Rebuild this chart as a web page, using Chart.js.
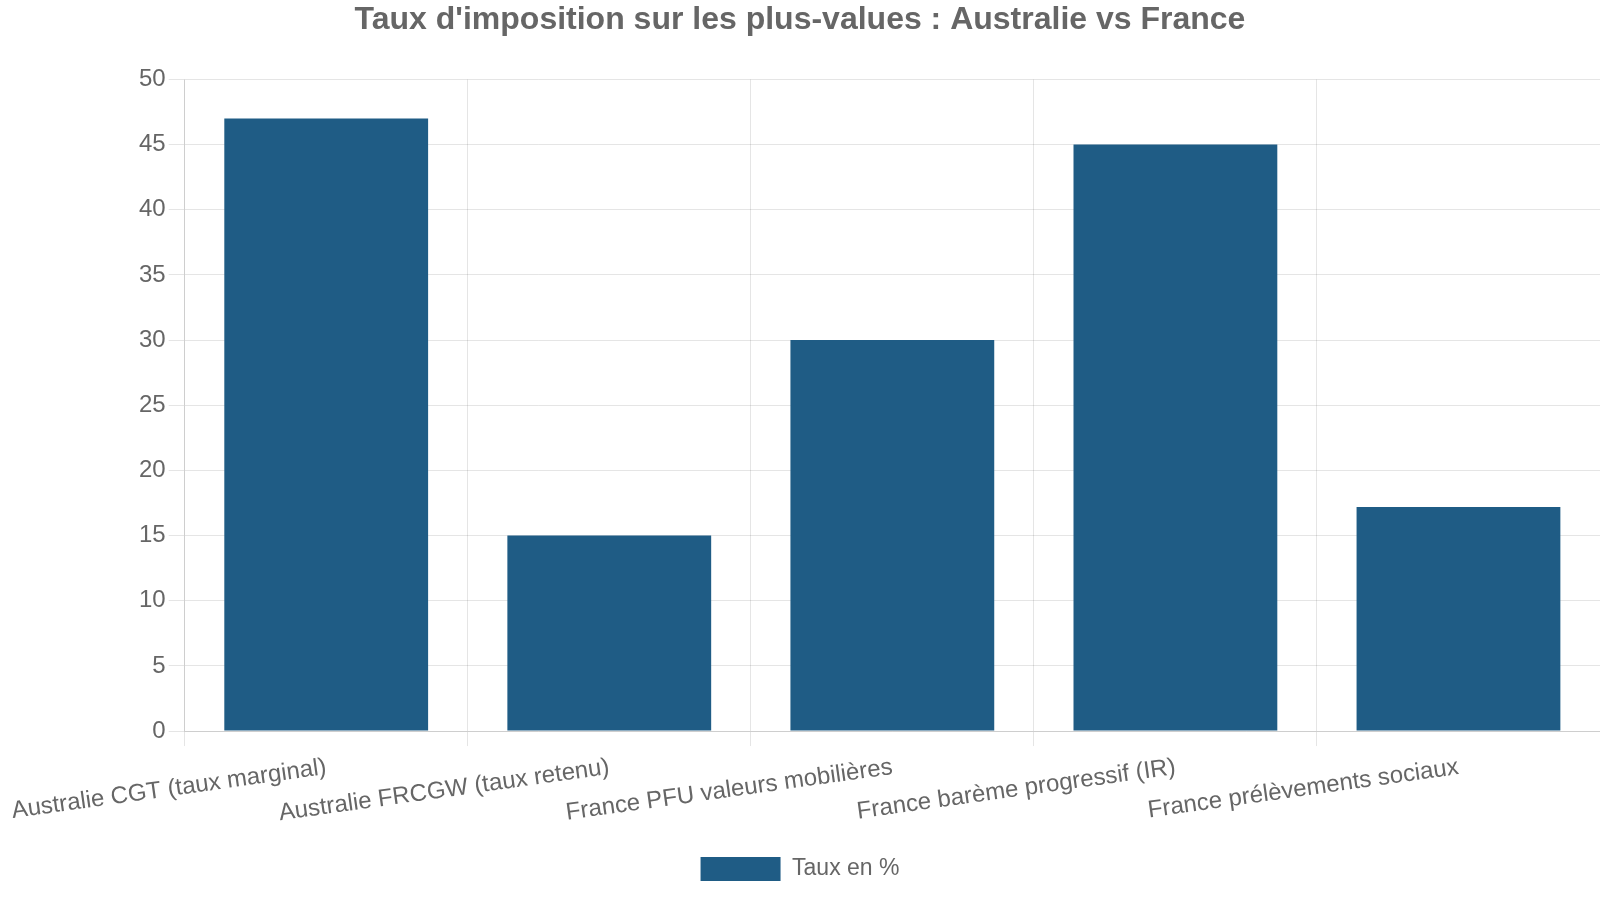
<!DOCTYPE html>
<html>
<head>
<meta charset="utf-8">
<script src="https://cdn.jsdelivr.net/npm/chart.js@4/dist/chart.umd.min.js"></script>
<style>
html,body{margin:0;padding:0;background:#fff;}
#wrap{width:1600px;height:900px;position:relative;}
</style>
</head>
<body>
<div id="wrap"><canvas id="c"></canvas></div>
<script>
const categories = [
  "Australie CGT (taux marginal)",
  "Australie FRCGW (taux retenu)",
  "France PFU valeurs mobilières",
  "France barème progressif (IR)",
  "France prélèvements sociaux"
];
const rates = [47, 15, 30, 45, 17.2];
const seriesLabel = "Taux en %";
const chartTitle = "Taux d'imposition sur les plus-values : Australie vs France";

Chart.defaults.font.family = "'Liberation Sans', Arial, sans-serif";
Chart.defaults.color = "#666";

new Chart(document.getElementById('c'), {
  type: 'bar',
  data: {
    labels: categories,
    datasets: [{
      label: seriesLabel,
      data: rates,
      backgroundColor: 'rgb(31, 92, 133)',
      borderColor: 'rgb(31, 92, 133)',
      borderWidth: 0
    }]
  },
  options: {
    responsive: true,
    maintainAspectRatio: false,
    animation: false,
    layout: { padding: { top: 1, right: 0, bottom: 9, left: 0 } },
    plugins: {
      title: {
        display: true,
        text: chartTitle,
        font: { size: 32, weight: 'bold' },
        color: '#666',
        padding: { top: 0, bottom: 40 }
      },
      legend: {
        position: 'bottom',
        labels: {
          boxWidth: 80,
          boxHeight: 24,
          font: { size: 23 },
          color: '#666',
          padding: 22
        }
      },
      tooltip: { enabled: false }
    },
    scales: {
      x: {
        ticks: { font: { size: 24 }, color: '#666', minRotation: 8, maxRotation: 8, padding: 7 },
        grid: { color: 'rgba(0,0,0,0.1)', tickLength: 15 }
      },
      y: {
        min: 0,
        max: 50,
        ticks: { stepSize: 5, font: { size: 24 }, color: '#666', padding: 3 },
        grid: { color: 'rgba(0,0,0,0.1)', tickLength: 16 }
      }
    }
  }
});
</script>
</body>
</html>
